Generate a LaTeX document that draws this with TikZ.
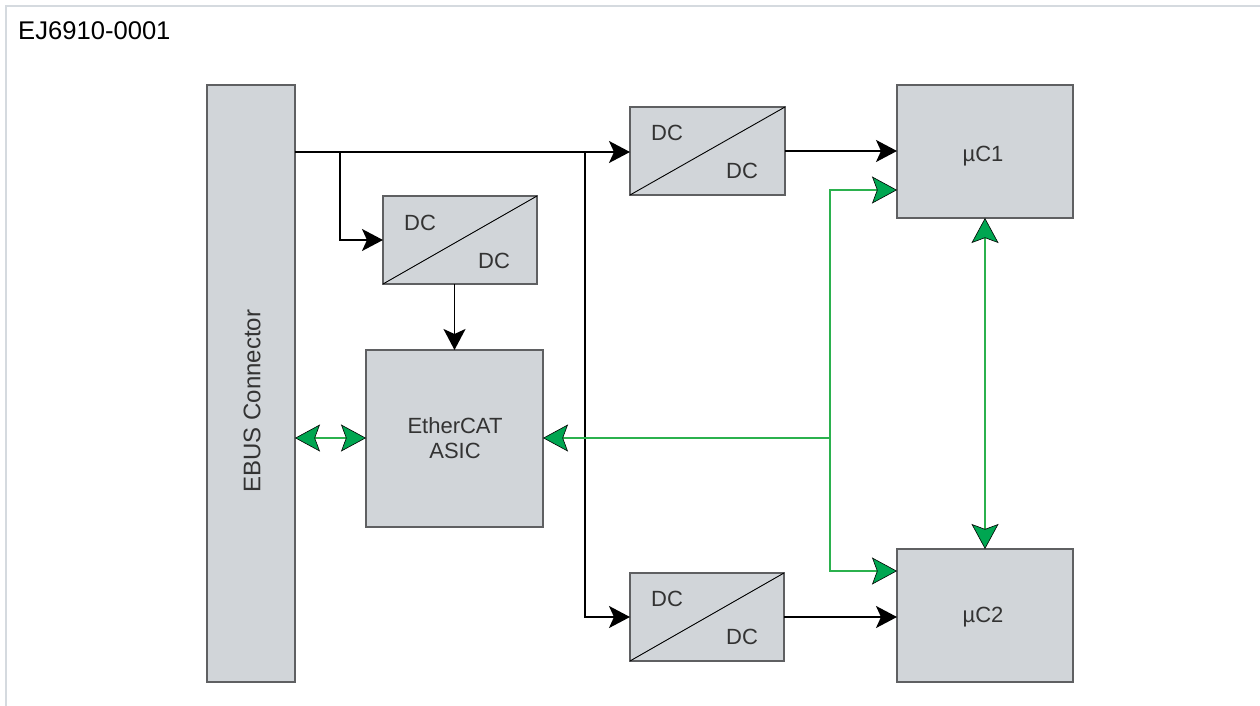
\documentclass[tikz,border=0pt]{standalone}
\usepackage{fontspec}
\setmainfont{Liberation Sans}
\usetikzlibrary{arrows.meta,positioning,calc}
\definecolor{boxfill}{HTML}{D1D5D9}
\definecolor{boxdraw}{HTML}{5F6062}
\definecolor{frame}{HTML}{D5DADF}
\definecolor{gline}{HTML}{2BB14E}
\definecolor{gfill}{HTML}{00A651}
\definecolor{txt}{HTML}{333333}
\tikzset{
  blk/.style={draw=boxdraw, fill=boxfill, line width=1.2pt, inner sep=0pt, outer sep=0pt, anchor=north west},
  lbl/.style={text=txt, font=\fontsize{22}{25}\selectfont, inner sep=0pt},
  pwr/.style={draw=black, line width=1.8pt, -{Stealth[length=21pt,width=22pt,inset=5pt]}},
  gtip/.tip={Stealth[length=25pt,width=27pt,inset=5pt,fill=gfill,color=black,line width=0.6pt]},
  sig/.style={draw=gline, line width=1.8pt, -gtip},
  sigb/.style={draw=gline, line width=1.8pt, gtip-gtip},
}
\begin{document}
\begin{tikzpicture}[x=1pt,y=-1pt]
\useasboundingbox (0,0) rectangle (1260,706);
% frame
\draw[frame, line width=1.5pt] (1260,6) -- (6,6) -- (6,706);
\node[anchor=base west, inner sep=0pt, font=\fontsize{25.6}{30}\selectfont] (title) at (18,40) {EJ6910-0001};
% boxes
\node[blk, minimum width=88pt, minimum height=597pt] (ebus) at (207,85) {};
\node[lbl, rotate=90, font=\fontsize{24}{28}\selectfont] (ebuslbl) at (252,401) {EBUS Connector};
\node[blk, minimum width=154pt, minimum height=88pt] (dcm) at (383,196) {};
\node[blk, minimum width=155pt, minimum height=88pt] (dct) at (630,107) {};
\node[blk, minimum width=154pt, minimum height=88pt] (dcb) at (630,573) {};
\node[blk, minimum width=177pt, minimum height=177pt] (asic) at (366,350) {};
\node[lbl, align=center] (asiclbl) at (455,438) {EtherCAT\\ASIC};
\node[blk, minimum width=176pt, minimum height=133pt] (uc1) at (897,85) {};
\node[blk, minimum width=176pt, minimum height=133pt] (uc2) at (897,549) {};
\node[lbl, anchor=base] (uc1lbl) at (983,161) {µC1};
\node[lbl, anchor=base] (uc2lbl) at (983,622) {µC2};
% DC/DC diagonals and labels
\foreach \b in {dcm,dct,dcb}{
  \draw[black, line width=0.9pt] (\b.south west) -- (\b.north east);
}
\node[lbl] (dcm1) at ($(dcm.north west)+(37,27)$) {DC};
\node[lbl] (dcm2) at ($(dcm.north west)+(111,65)$) {DC};
\node[lbl] (dct1) at ($(dct.north west)+(37,26)$) {DC};
\node[lbl] (dct2) at ($(dct.north west)+(112,64)$) {DC};
\node[lbl] (dcb1) at ($(dcb.north west)+(37,26)$) {DC};
\node[lbl] (dcb2) at ($(dcb.north west)+(112,64)$) {DC};
% power connections
\coordinate (e1) at (295,152);
\coordinate (j1) at (340,152);
\coordinate (j2) at (585,152);
\draw[pwr] (e1) -- (630,152);
\draw[pwr] (j1) |- (dcm.west);
\draw[pwr] (j2) |- (dcb.west);
\draw[pwr] (dcm.south -| asic.north) -- (asic.north);
\draw[pwr] (dct.east) -- (dct.east -| uc1.west);
\draw[pwr] (dcb.east) -- (dcb.east -| uc2.west);
% signal connections
\coordinate (g1) at (830,438);
\draw[sigb] (295,438) -- (asic.west |- g1);
\draw[sig] (g1) -- (asic.east |- g1);
\draw[sig] (g1) |- (897,190);
\draw[sig] (g1) |- (897,571);
\draw[sigb] (uc1.south -| 985,0) -- (uc2.north -| 985,0);
\end{tikzpicture}
\end{document}
